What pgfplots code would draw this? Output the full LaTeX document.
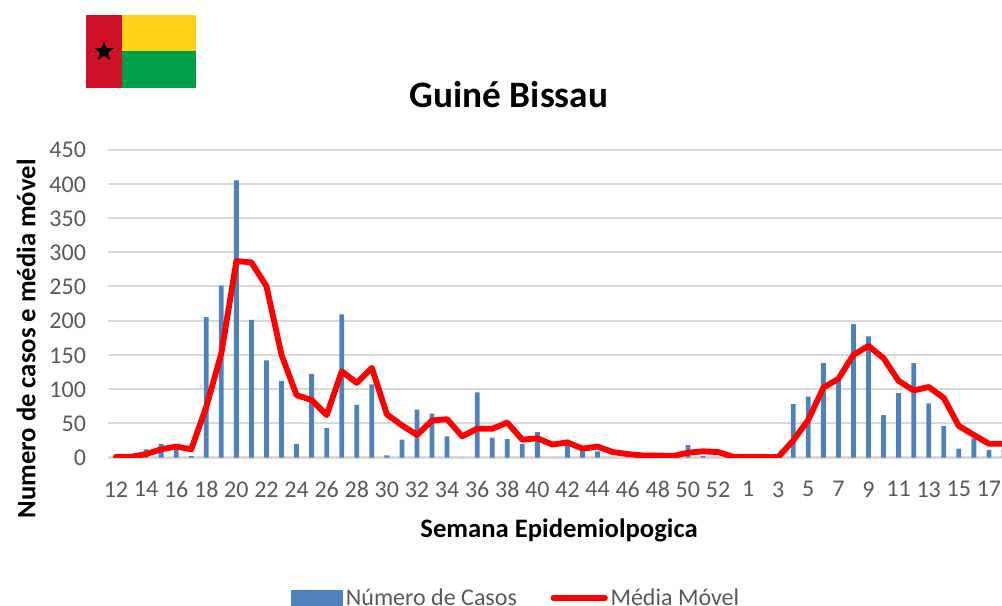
\documentclass[border=0pt]{standalone}
\usepackage{fontspec}
\setmainfont{Carlito}
\usepackage{pgfplots}
\pgfplotsset{compat=1.18}
\usepackage{pgfplotstable}
\usetikzlibrary{shapes.geometric}
\definecolor{barblue}{HTML}{4F81BD}
\definecolor{gridgray}{HTML}{D9D9D9}
\definecolor{ticktext}{HTML}{595959}
\definecolor{flagred}{HTML}{CE1126}
\definecolor{flagyellow}{HTML}{FCD116}
\definecolor{flaggreen}{HTML}{009E49}
\pgfplotstableread{
i cases avg
0 0 1
1 0 1
2 12 5
3 20 12
4 13 16
5 2 12
6 205 74
7 251 152
8 405 287
9 201 285
10 142 250
11 112 150
12 20 91
13 122 84
14 43 62
15 209 126
16 77 109
17 107 131
18 3 63
19 26 47
20 70 33
21 64 54
22 31 56
23 0 31
24 95 42
25 29 42
26 27 51
27 20 26
28 37 28
29 0 19
30 26 22
31 12 13
32 9 16
33 0 8
34 0 5
35 0 3
36 0 3
37 0 2
38 18 7
39 2 9
40 0 8
41 0 1
42 0 0.5
43 0 0.5
44 0 0.5
45 78 25
46 89 55
47 138 102
48 113 115
49 195 150
50 177 163
51 62 145
52 94 112
53 138 98
54 79 103
55 46 87
56 13 46
57 28 33
58 11 20
59 11 20
}\datatable
\begin{document}
\begin{tikzpicture}
\path[use as bounding box,clip] (0,0) rectangle (751.5pt,454.5pt);
% flag
\fill[flagyellow] (91.5pt,388.5pt) rectangle (147pt,443.25pt);
\fill[flaggreen] (91.5pt,388.5pt) rectangle (147pt,416pt);
\fill[flagred] (64.5pt,388.5pt) rectangle (91.5pt,443.25pt);
\node[star,star points=5,star point ratio=2.6,fill=black,inner sep=0pt,minimum size=16pt] at (78pt,416pt) {};
\begin{axis}[
  at={(81pt,111.375pt)}, anchor=south west,
  scale only axis, width=670.5pt, height=231pt,
  xmin=-0.53, xmax=58.87, ymin=0, ymax=450,
  xtick={0,2,...,40,42,44,...,58},
  xticklabels={12,14,16,18,20,22,24,26,28,30,32,34,36,38,40,42,44,46,48,50,52,1,3,5,7,9,11,13,15,17},
  ytick={0,50,...,450},
  ymajorgrids,
  grid style={draw=gridgray,line width=1.5pt},
  axis line style={draw=none},
  major tick length=0pt,
  tick label style={font=\fontsize{18pt}{21pt}\selectfont,text=ticktext},
  /pgf/number format/assume math mode=true,
  xticklabel style={yshift=-14.5pt},
  yticklabel style={xshift=-13pt,yshift=-0.5pt},
  title={\bfseries Guiné Bissau},
  title style={at={(axis description cs:0.4485,1.177)},anchor=center,yshift=-5.5pt,font=\fontsize{28pt}{32pt}\selectfont},
  xlabel={\bfseries Semana Epidemiolpogica},
  xlabel style={at={(axis description cs:0.5045,-0.229)},anchor=center,yshift=-1.5pt,font=\fontsize{20pt}{24pt}\selectfont},
  ylabel={\bfseries Numero de casos e média móvel},
  ylabel style={at={(axis description cs:-0.0906,0.385)},anchor=center,yshift=0.75pt,font=\fontsize{20pt}{24pt}\selectfont},
  legend columns=2,
  legend style={at={(axis description cs:0.454,-0.456)},anchor=center,xshift=1.875pt,draw=none,fill=none,
    font=\fontsize{18pt}{21pt}\selectfont,text=ticktext,
    /tikz/every even column/.append style={column sep=23.25pt}},
]
\addplot[ybar,bar width=3.6pt,fill=barblue,draw=none,
  legend image code/.code={\fill[barblue] (-44.75pt,-7pt) rectangle (-5.5pt,6pt);}]
  table[x=i,y=cases] {\datatable};
\addlegendentry{Número de Casos}
\addplot[red,line width=4.4pt,line join=round,line cap=round,
  legend image code/.code={\draw[red,line width=4.2pt,line cap=round] (-42.5pt,0pt) -- (-3.75pt,0pt);}]
  table[x=i,y=avg] {\datatable};
\addlegendentry{Média Móvel}
\end{axis}
\end{tikzpicture}
\end{document}
